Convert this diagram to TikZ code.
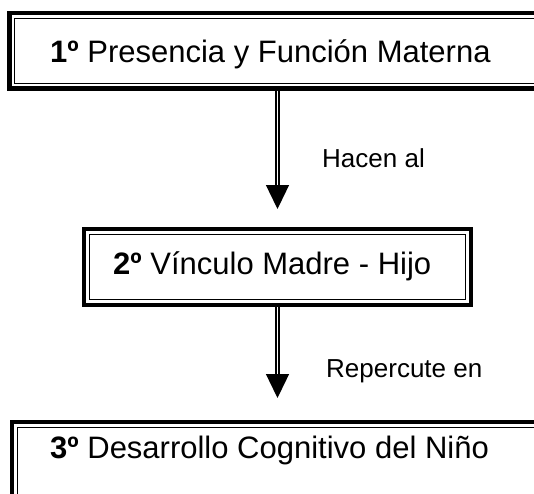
\documentclass[tikz,border=0pt]{standalone}
\usepackage{fontspec}
\setmainfont{Liberation Sans}
\usetikzlibrary{arrows.meta}
\begin{document}
\begin{tikzpicture}[x=1pt,y=-1pt,
  tribox/.style={draw, line width=4.5pt, rectangle, inner sep=0pt, outer sep=0pt,
    path picture={\draw[line width=1.1pt]
      ([shift={(5.2pt,-5.2pt)}]path picture bounding box.north west) rectangle
      ([shift={(-5.2pt,5.2pt)}]path picture bounding box.south east);}},
  boxtext/.style={anchor=base west, font=\fontsize{31}{37}\selectfont, inner sep=0pt},
  lbl/.style={anchor=base west, font=\fontsize{26}{31}\selectfont, inner sep=0pt},
  flow/.style={line width=1.3pt, double distance=1.6pt,
    -{Triangle[width=23pt,length=24pt]}}]
\useasboundingbox (0,0) rectangle (534,493);
% boxes
\node[tribox, minimum width=550.5pt, minimum height=75.5pt] (b1) at (284.75,50.75) {};
\node[tribox, minimum width=387pt, minimum height=76pt] (b2) at (277.5,267) {};
\node[tribox, minimum width=548pt, minimum height=88pt] (b3) at (286,466) {};
% texts
\node[boxtext] (t1) at (50,62) {\textbf{1º} Presencia y Función Materna};
\node[boxtext] (t2) at (113,274) {\textbf{2º} Vínculo Madre - Hijo};
\node[boxtext] (t3) at (50,458) {\textbf{3º} Desarrollo Cognitivo del Niño};
% arrows
\draw[flow, shorten <=2pt, shorten >=20pt] (b1.south -| b2.north) -- (b2.north);
\draw[flow, shorten <=2pt, shorten >=24pt] (b2.south) -- (b2.south |- b3.north);
% labels
\node[lbl] (l1) at (322,167) {Hacen al};
\node[lbl] (l2) at (326,377) {Repercute en};
\end{tikzpicture}
\end{document}
